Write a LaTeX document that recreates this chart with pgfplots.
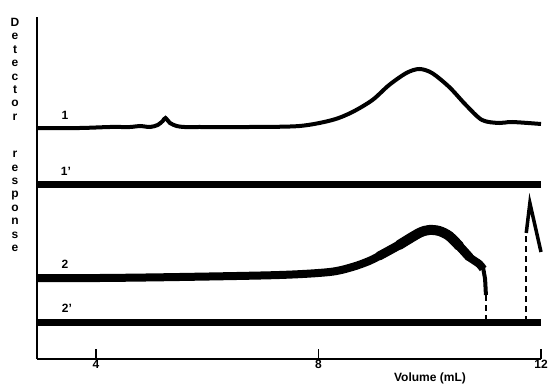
\documentclass[border=0pt]{standalone}
\usepackage{pgfplots}
\pgfplotsset{compat=1.18}
\usepackage{fontspec}
\setmainfont{Liberation Sans}
\begin{document}
\begin{tikzpicture}[x=1pt,y=1pt]
\useasboundingbox (0,0) rectangle (552,386);
\begin{axis}[
  at={(37pt,27pt)}, anchor=south west,
  scale only axis, width=504pt, height=342pt,
  xmin=2.94, xmax=12, ymin=0, ymax=342,
  axis x line*=bottom, axis y line*=left,
  axis line style={line width=1.5pt, -},
  xtick={4,8,12}, ytick=\empty,
  tick align=inside, major tick length=10pt,
  tick style={line width=1.5pt, black},
  xticklabel style={font=\bfseries\fontsize{12}{14}\selectfont, inner sep=1pt},
  /pgf/number format/assume math mode=true,
  clip=false,
]
% curve 1
\addplot[black, line width=4pt, smooth, tension=0.5] coordinates {
(2.94,231)(3.71,231)(4.25,232)(4.61,232)(4.79,233)(4.97,232)(5.11,234)(5.20,238)(5.25,241)(5.33,236)(5.45,233)(5.59,232)(5.86,232)(6.76,232)(7.66,233)(8.25,239)(8.61,247)(8.97,259)(9.27,274)(9.58,286)(9.81,290)(10.04,286)(10.35,272)(10.65,254)(10.94,239)(11.25,236)(11.48,237)(12.0,235)};
% curve 1'
\addplot[black, line width=7pt] coordinates {(2.94,174)(12.0,174)};
% curve 2
\addplot[black, line width=8pt, smooth, tension=0.5] coordinates {
(2.94,81)(4.07,81)(5.505,82)(7.30,84)(8.20,87)(8.61,92)(8.91,98)(9.09,103)(9.45,114)(9.81,126)(9.99,129)(10.17,128)(10.35,123)(10.53,113)(10.71,102)(10.89,95)(10.96,90)};
\addplot[black, line width=9pt, line cap=round, smooth, tension=0.5] coordinates {
(9.09,103)(9.45,114)(9.81,126)(9.99,129)(10.17,128)(10.35,123)(10.53,113)(10.71,102)};
\addplot[black, line width=10pt, line cap=round, smooth, tension=0.5] coordinates {
(9.45,114)(9.81,126)(9.99,129)(10.17,128)(10.35,123)(10.53,113)};
\addplot[black, line width=4pt] coordinates {(10.96,91)(10.995,80)(11.01,64)};
\addplot[black, line width=2.5pt, dash pattern=on 6pt off 4pt] coordinates {(11.01,64)(11.01,37)};
\addplot[black, line width=2.5pt, dash pattern=on 6pt off 4pt] coordinates {(11.73,37)(11.73,126)};
\addplot[black, line width=3.5pt] coordinates {(11.735,126)(11.80,156)(11.89,134)(12.0,107)};
% curve 2'
\addplot[black, line width=7pt] coordinates {(2.94,37)(12.0,37)};
\end{axis}
\node[font=\bfseries\fontsize{12}{14}\selectfont] at (430,8) {Volume (mL)};
\node[anchor=north, align=center, inner sep=0pt, font=\bfseries\fontsize{12}{13.4}\selectfont] at (15,368)
  {D\\e\\t\\e\\c\\t\\o\\r\\[24pt]r\\e\\s\\p\\o\\n\\s\\e};
\begin{scope}[every node/.style={font=\bfseries\fontsize{12}{14}\selectfont}]
\node at (65,271) {1};
\node at (66,215) {1'};
\node at (65,122) {2};
\node at (67,78) {2'};
\end{scope}
\end{tikzpicture}
\end{document}
